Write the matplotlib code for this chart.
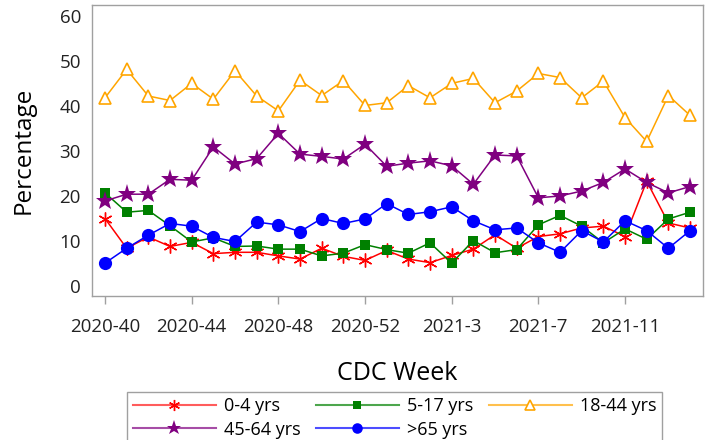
import matplotlib
matplotlib.use("Agg")
import matplotlib.pyplot as plt
from matplotlib.lines import Line2D
import numpy as np

plt.rcParams['font.family'] = ['Open Sans', 'DejaVu Sans']

# CDC weeks 2020-40 .. 2020-53, 2021-1 .. 2021-14
weeks = ['2020-%d' % w for w in range(40, 54)] + ['2021-%d' % w for w in range(1, 15)]
tick_labels = ['2020-40', '2020-44', '2020-48', '2020-52', '2021-3', '2021-7', '2021-11']

age_0_4 = [15.0, 8.4, 10.9, 8.8, 9.7, 7.2, 7.5, 7.5, 6.7, 6.0, 8.4, 6.6, 5.7, 7.9,
           6.0, 5.2, 6.8, 8.2, 11.4, 8.4, 11.0, 11.6, 12.9, 13.3, 11.0, 23.3, 14.0, 12.9]
age_5_17 = [20.7, 16.4, 16.8, 13.4, 9.8, 10.7, 8.8, 8.9, 8.2, 8.2, 6.7, 7.3, 9.2, 8.1,
            7.3, 9.6, 5.1, 10.1, 7.4, 8.1, 13.6, 15.7, 13.3, 9.6, 12.7, 10.4, 14.9, 16.4]
age_18_44 = [41.8, 48.1, 42.2, 41.2, 45.0, 41.5, 47.8, 42.2, 38.9, 45.7, 42.3, 45.6, 40.1, 40.7,
             44.5, 41.8, 45.0, 46.1, 40.7, 43.3, 47.2, 46.3, 41.8, 45.5, 37.4, 32.1, 42.3, 37.9]
age_45_64 = [18.9, 20.4, 20.4, 23.7, 23.5, 30.9, 27.1, 28.3, 33.9, 29.3, 28.8, 28.2, 31.5, 26.6,
             27.3, 27.8, 26.7, 22.6, 29.1, 28.9, 19.6, 20.0, 21.1, 23.0, 26.0, 23.0, 20.7, 22.1]
age_65 = [5.1, 8.4, 11.3, 13.9, 13.3, 10.8, 9.9, 14.2, 13.6, 12.1, 15.0, 13.9, 14.9, 18.3,
          15.9, 16.5, 17.6, 14.5, 12.5, 12.9, 9.6, 7.5, 12.3, 9.8, 14.5, 12.3, 8.4, 12.3]

series = [
    ('0-4 yrs', age_0_4, '#FF0000', '#FF5C5C', dict(marker=(6, 2, 0), ms=10, mew=1.0, mfc='#FF0000', mec='#FF0000')),
    ('5-17 yrs', age_5_17, '#008000', '#4DA64D', dict(marker='s', ms=7.5, mew=0, mfc='#008000', mec='#008000')),
    ('18-44 yrs', age_18_44, '#FFA500', '#FFC04D', dict(marker='^', ms=9, mew=1.2, mfc='white', mec='#FFA500')),
    ('45-64 yrs', age_45_64, '#800080', '#A64DA6', dict(marker='*', ms=14, mew=0, mfc='#800080', mec='#800080')),
    ('>65 yrs', age_65, '#0000FF', '#4D4DFF', dict(marker='o', ms=9.5, mew=0, mfc='#0000FF', mec='#0000FF')),
]

fig = plt.figure(figsize=(7.11, 4.40), dpi=100)
ax = fig.add_axes([0.1294, 0.3273, 0.8594, 0.6613])

x = np.arange(len(weeks))
handles = []
names = []
for name, vals, col, light, mk in series:
    ax.plot(x, vals, color=col, lw=1.1, **mk)
    lmk = dict(mk)
    lmk['ms'] = mk['ms'] * 0.8
    handles.append(Line2D([], [], color=light, lw=1.5, **lmk))
    names.append(name)

ax.set_xlim(-0.6, 27.6)
ax.set_ylim(-2.2, 62.4)
ax.set_yticks(range(0, 61, 10))
ax.set_xticks([weeks.index(t) for t in tick_labels])
ax.set_xticklabels(tick_labels)

for s in ax.spines.values():
    s.set_color('#A0A0A0')
    s.set_linewidth(1.0)
ax.tick_params(axis='y', length=0, pad=8, labelsize=13.5, labelcolor='#222222')
ax.tick_params(axis='x', length=6, width=1, color='#A0A0A0', pad=10, labelsize=13.5, labelcolor='#222222')

ax.set_ylabel('Percentage', fontsize=17.5, labelpad=17)
ax.set_xlabel('CDC Week', fontsize=18, labelpad=18)

# legend fills column-wise; reorder so it reads row-wise like the original
order = [0, 3, 1, 4, 2]
leg = fig.legend(handles=[handles[i] for i in order], labels=[names[i] for i in order], ncol=3,
                 loc='upper center', bbox_to_anchor=(0.555, 0.109), borderaxespad=0,
                 fontsize=13, handlelength=4.6, handletextpad=0.45, columnspacing=0.85,
                 borderpad=0.3, labelspacing=0.28, fancybox=False, framealpha=1)
leg.get_frame().set_edgecolor('#A0A0A0')
leg.get_frame().set_linewidth(1.0)

fig.savefig('out.png', dpi=100)
